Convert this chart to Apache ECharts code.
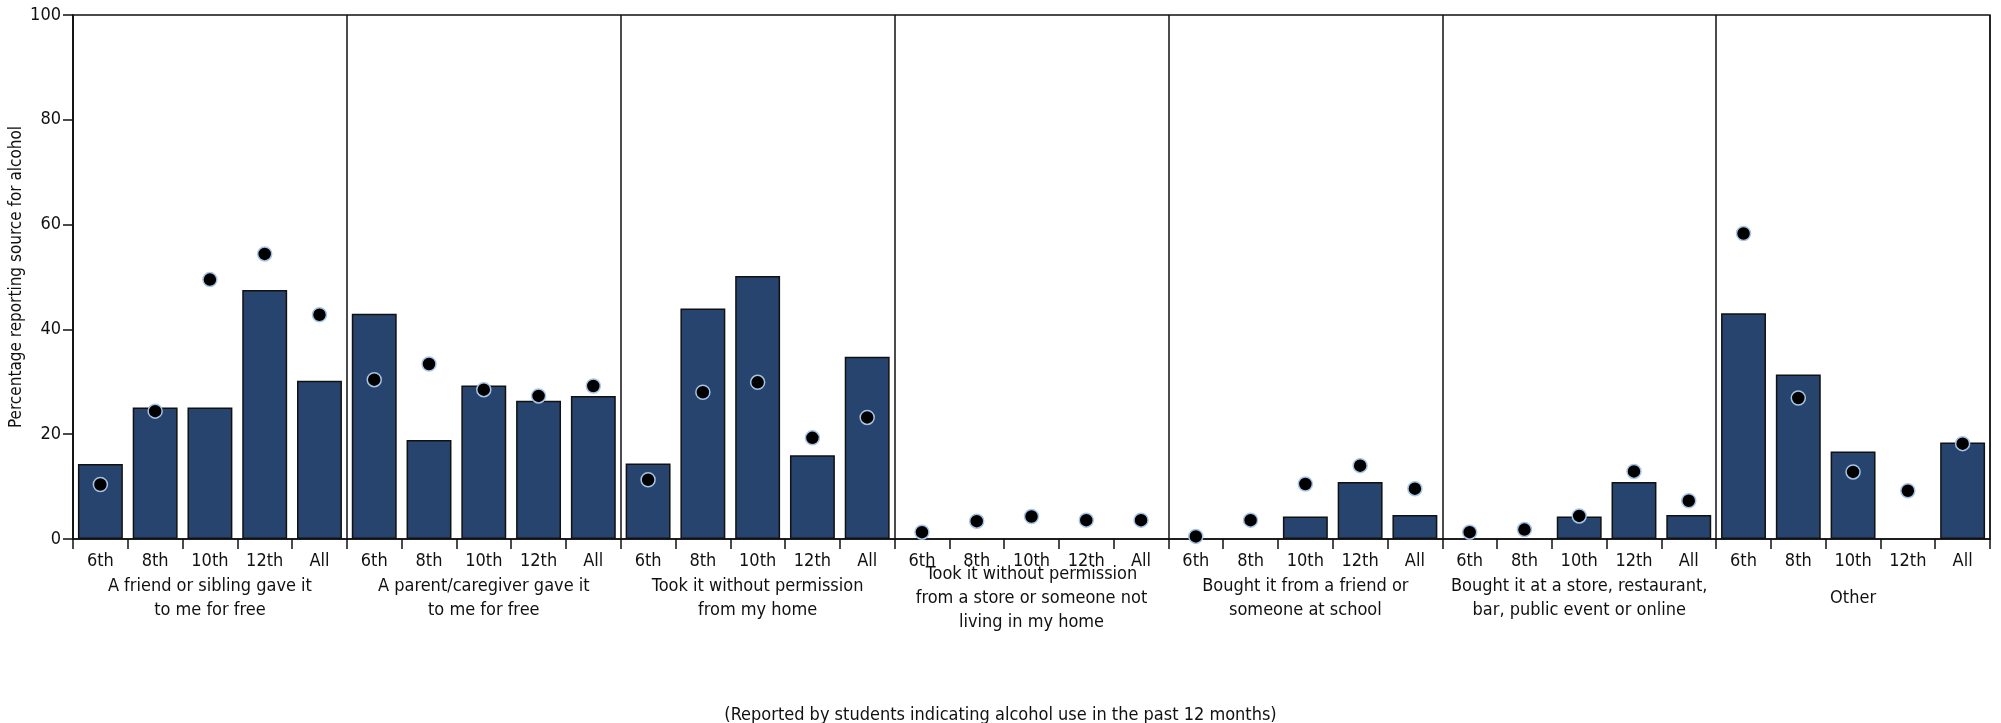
<!DOCTYPE html>
<html>
<head>
<meta charset="utf-8">
<script src="https://cdn.jsdelivr.net/npm/echarts@6/dist/echarts.min.js"></script>
<style>
html,body{margin:0;padding:0;background:#fff;}
#chart{width:2001px;height:723px;}
</style>
</head>
<body>
<div id="chart"></div>
<script>
const grades = ['6th', '8th', '10th', '12th', 'All'];
const groupLabels = [
  'A friend or sibling gave it\nto me for free',
  'A parent/caregiver gave it\nto me for free',
  'Took it without permission\nfrom my home',
  'Took it without permission\nfrom a store or someone not\nliving in my home',
  'Bought it from a friend or\nsomeone at school',
  'Bought it at a store, restaurant,\nbar, public event or online',
  'Other'
];
// bar values per source group (6th, 8th, 10th, 12th, All); null = no bar
const barFriend   = [14.3, 25.1, 25.1, 47.5, 30.2];
const barParent   = [43.0, 18.9, 29.3, 26.4, 27.3];
const barHome     = [14.4, 44.0, 50.2, 16.0, 34.8];
const barStore    = [null, null, null, null, null];
const barBought   = [null, null, 4.3, 10.9, 4.6];
const barRetail   = [null, null, 4.3, 10.9, 4.6];
const barOther    = [43.1, 31.4, 16.7, null, 18.4];
// dot values per source group
const dotFriend   = [10.4, 24.4, 49.5, 54.4, 42.8];
const dotParent   = [30.4, 33.4, 28.5, 27.3, 29.2];
const dotHome     = [11.3, 28.0, 29.9, 19.3, 23.2];
const dotStore    = [1.3, 3.4, 4.3, 3.6, 3.6];
const dotBought   = [0.5, 3.6, 10.5, 14.0, 9.6];
const dotRetail   = [1.3, 1.8, 4.4, 12.9, 7.3];
const dotOther    = [58.3, 26.9, 12.8, 9.2, 18.2];
const yTicks = [0, 20, 40, 60, 80, 100];
const yTitle = 'Percentage reporting source for alcohol';
const caption = '(Reported by students indicating alcohol use in the past 12 months)';

const barGroups = [barFriend, barParent, barHome, barStore, barBought, barRetail, barOther];
const dotGroups = [dotFriend, dotParent, dotHome, dotStore, dotBought, dotRetail, dotOther];

const cats = [];
groupLabels.forEach((g, gi) => grades.forEach(gr => cats.push(gi + '|' + gr)));
const barData = [].concat(...barGroups).map(v => v == null ? '-' : v);
const dotData = [].concat(...dotGroups);

const FONT = "'Liberation Sans Narrow', 'DejaVu Sans Condensed', 'DejaVu Sans', sans-serif";

const chart = echarts.init(document.getElementById('chart'), null, {renderer: 'canvas'});
chart.setOption({
  animation: false,
  backgroundColor: '#fff',
  textStyle: {fontFamily: FONT, color: '#111'},
  grid: {
    left: 73, right: 11, top: 15, bottom: 184,
    containLabel: false, outerBoundsMode: 'none',
    show: true, borderColor: '#111', borderWidth: 1.3, backgroundColor: 'transparent'
  },
  xAxis: [
    {
      type: 'category', data: cats, position: 'bottom',
      axisLine: {lineStyle: {color: '#111', width: 1.5}},
      axisTick: {show: true, length: 10, lineStyle: {color: '#111', width: 1.5}},
      axisLabel: {
        interval: 0, margin: 13, fontSize: 18, color: '#111', fontFamily: FONT,
        formatter: v => v.split('|')[1]
      },
      splitLine: {show: false}
    },
    {
      type: 'category', data: groupLabels, position: 'bottom',
      axisLine: {show: false}, axisTick: {show: false},
      axisLabel: {
        interval: 0, margin: 59, fontSize: 18, lineHeight: 24, color: '#111',
        fontFamily: FONT, verticalAlign: 'middle', align: 'center'
      },
      splitLine: {show: true, lineStyle: {color: '#111', width: 1.5}}
    }
  ],
  yAxis: {
    type: 'value', min: 0, max: 100, interval: 20,
    axisLine: {show: true, lineStyle: {color: '#111', width: 1.5}},
    axisTick: {show: true, length: 10, lineStyle: {color: '#111', width: 1.5}},
    axisLabel: {margin: 12, fontSize: 18, color: '#111', fontFamily: FONT,
      formatter: v => yTicks.includes(v) ? String(v) : ''},
    splitLine: {show: false}
  },
  series: [
    {
      type: 'bar', xAxisIndex: 0, data: barData, barCategoryGap: '18%',
      itemStyle: {color: '#27446e', borderColor: '#111', borderWidth: 1.5},
      z: 2
    },
    {
      type: 'scatter', xAxisIndex: 0, data: dotData, symbol: 'circle', symbolSize: 14,
      itemStyle: {color: '#000', borderColor: '#a7c4e6', borderWidth: 1.5, opacity: 1},
      z: 5
    }
  ],
  graphic: [
    {
      type: 'text', x: 17, y: 277, rotation: Math.PI / 2,
      style: {text: yTitle, fontSize: 17, fontFamily: FONT, fill: '#111',
        align: 'center', verticalAlign: 'middle'}
    },
    {
      type: 'text', left: 'center', top: 706,
      style: {text: caption, fontSize: 18, fontFamily: FONT, fill: '#111'}
    }
  ]
});
</script>
</body>
</html>
